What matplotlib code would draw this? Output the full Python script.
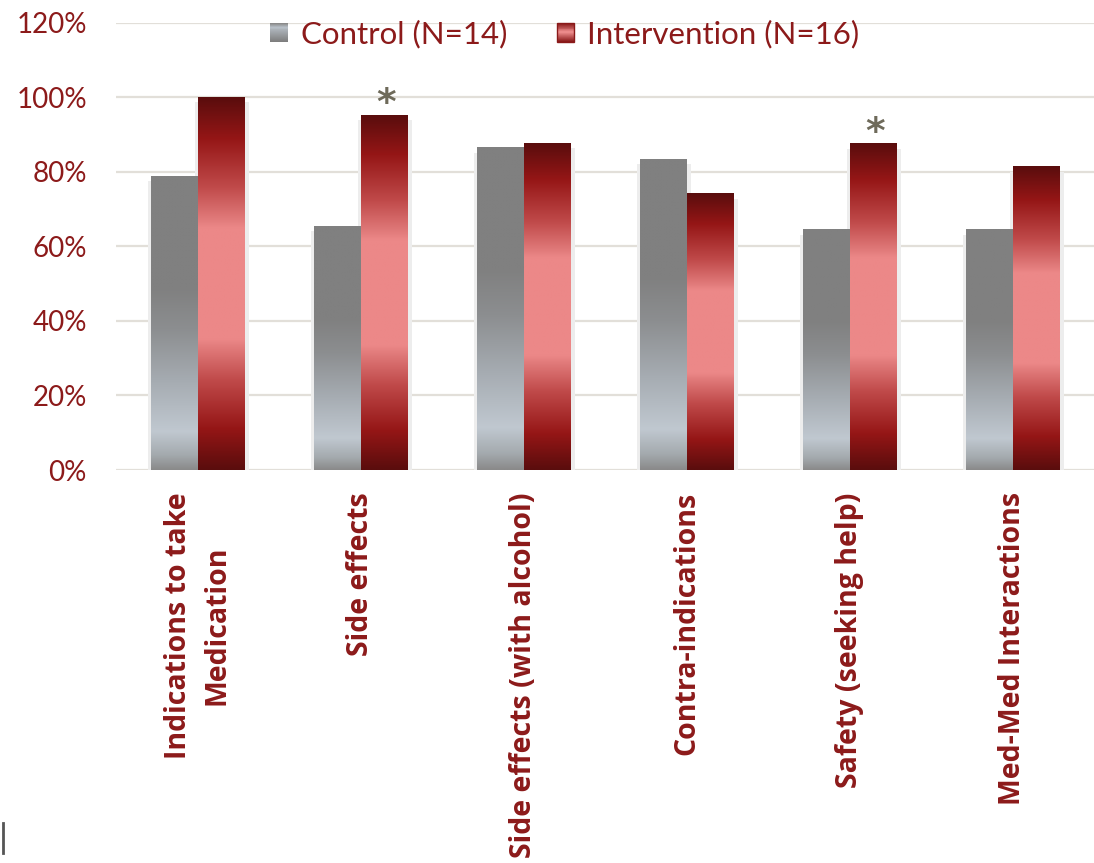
import numpy as np
import matplotlib
matplotlib.use('Agg')
import matplotlib.pyplot as plt
from matplotlib.colors import LinearSegmentedColormap
from matplotlib.patches import Rectangle
from matplotlib.lines import Line2D
from matplotlib.legend_handler import HandlerBase

# ---------------- data ----------------
categories = ["Indications to take\nMedication", "Side effects",
              "Side effects (with alcohol)", "Contra-indications",
              "Safety (seeking help)", "Med-Med Interactions"]
control = [78.7, 65.3, 86.4, 83.4, 64.4, 64.4]
intervention = [100.0, 95.2, 87.7, 74.1, 87.5, 81.3]
significant = [False, True, False, False, True, False]
series_names = ["Control (N=14)", "Intervention (N=16)"]
yticks = [0, 20, 40, 60, 80, 100, 120]

# ---------------- style ----------------
TEXT = '#8c1a1a'
FONT = 'Lato'
XFONT = 'Open Sans'
gray_cmap = LinearSegmentedColormap.from_list('g', [
    (0.0, '#8a8a8a'), (0.05, '#a4aaae'), (0.13, '#c0c8d0'), (0.30, '#a6acb2'),
    (0.48, '#8c8e90'), (0.62, '#808080'), (1.0, '#808080')])
red_cmap = LinearSegmentedColormap.from_list('r', [
    (0.0, '#5a0d0d'), (0.11, '#951616'), (0.24, '#c04a4a'), (0.33, '#e27c7c'),
    (0.35, '#ec8888'), (0.65, '#ec8888'), (0.67, '#e27c7c'), (0.76, '#c04a4a'),
    (0.89, '#951616'), (1.0, '#5a0d0d')])
legend_gray = LinearSegmentedColormap.from_list('lg', [
    (0.0, '#8a8a8a'), (0.2, '#b8c0c8'), (1.0, '#7e7e7e')])
legend_red = LinearSegmentedColormap.from_list('lr', [
    (0.0, '#8a1a1a'), (0.5, '#f09090'), (1.0, '#8a1a1a')])

W, H = 1094, 863
fig = plt.figure(figsize=(W / 100, H / 100), dpi=100)
fig.patch.set_facecolor('white')
ax = fig.add_axes([116 / W, 1 - 470 / H, (1094 - 116) / W, (470 - 22.7) / H])

x = np.arange(len(categories))
bw = 0.288
grad = np.linspace(0, 1, 256).reshape(-1, 1)

bars_c = ax.bar(x - bw / 2, control, bw, facecolor='none', edgecolor='none', zorder=3)
bars_i = ax.bar(x + bw / 2, intervention, bw, facecolor='none', edgecolor='none', zorder=3)

for bars, cmap in ((bars_c, gray_cmap), (bars_i, red_cmap)):
    for b in bars:
        x0, w, h = b.get_x(), b.get_width(), b.get_height()
        # soft shadow
        ax.add_patch(Rectangle((x0 - 0.018, -0.7), w + 0.045, h - 0.6,
                               facecolor='#ededed', edgecolor='none', zorder=2))
        ax.imshow(grad, cmap=cmap, extent=[x0, x0 + w, 0, h], origin='lower',
                  aspect='auto', interpolation='bilinear', zorder=3.5)

for i, sig in enumerate(significant):
    if sig:
        ax.text(x[i] + bw / 2 + 0.015, intervention[i] - 1.8, '*', ha='center', va='bottom',
                fontsize=27, fontweight='bold', color='#6e6a5a', family='DejaVu Sans', zorder=5)

ax.set_xlim(-0.5, len(categories) - 0.5)
ax.set_ylim(0, 120)
ax.set_yticks(yticks)
ax.set_yticklabels([f"{v}%" for v in yticks], fontsize=20, color=TEXT, family=FONT)
ax.set_xticks(x)
ax.set_xticklabels(categories, rotation=90, fontsize=20.5, color=TEXT,
                   family=XFONT, fontweight='bold', ha='center', va='top',
                   multialignment='center')
for t in ax.get_xticklabels():
    t.set_linespacing(1.45)
ax.tick_params(axis='y', length=0, pad=21)
ax.tick_params(axis='x', length=0, pad=16)
for s in ax.spines.values():
    s.set_visible(False)
ax.set_axisbelow(True)
ax.yaxis.grid(True, color='#e2dfd9', linewidth=1.6, zorder=0)
ax.set_facecolor('white')


class GradHandler(HandlerBase):
    def __init__(self, cmap, edge=None):
        super().__init__()
        self.cmap = cmap
        self.edge = edge

    def create_artists(self, legend, orig_handle, xdescent, ydescent, width,
                       height, fontsize, trans):
        n = 20
        arts = []
        for k in range(n):
            y0 = -ydescent + height * k / n
            arts.append(Rectangle((-xdescent, y0), width, height / n * 1.1,
                                  facecolor=self.cmap(1 - k / (n - 1)),
                                  edgecolor='none', transform=trans))
        if self.edge:
            arts.append(Rectangle((-xdescent, -ydescent), width, height,
                                  facecolor='none', edgecolor=self.edge,
                                  linewidth=1.0, transform=trans))
        return arts


h1 = Rectangle((0, 0), 1, 1)
h2 = Rectangle((0, 0), 1, 1, label='b')
leg = ax.legend([h1, h2], series_names,
                handler_map={h1: GradHandler(legend_gray),
                             h2: GradHandler(legend_red, '#8a1a1a')},
                loc='center', bbox_to_anchor=(565 / W, 1 - 34 / H),
                bbox_transform=fig.transFigure, ncol=2, frameon=False,
                prop={'family': FONT, 'size': 22.5},
                handlelength=0.55, handleheight=0.55, handletextpad=0.42,
                columnspacing=1.6, borderpad=0, borderaxespad=0)
for t in leg.get_texts():
    t.set_color(TEXT)

# stray marks at the page edge
fig.add_artist(Line2D([3 / W, 3 / W], [1 - 853 / H, 1 - 823 / H],
                      transform=fig.transFigure, color='#555555', lw=2))

fig.savefig('out.png', dpi=100, facecolor='white')
